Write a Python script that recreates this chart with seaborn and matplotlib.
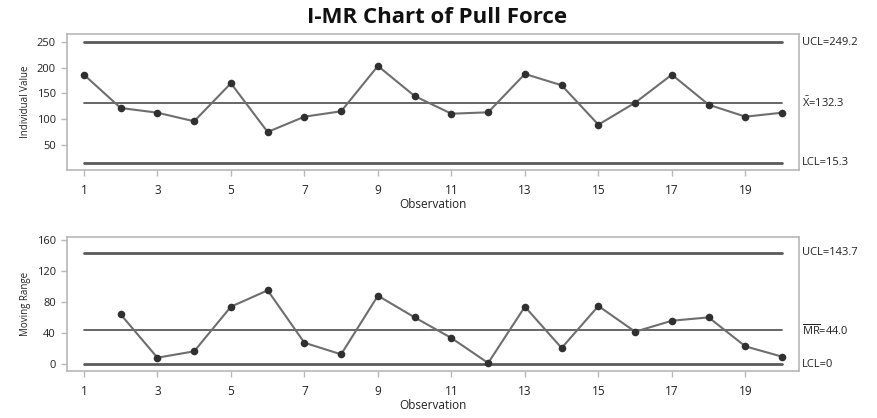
import numpy as np
import pandas as pd
import matplotlib
matplotlib.use("Agg")
import matplotlib.pyplot as plt
import seaborn as sns

# ---- data ----
observation = list(range(1, 21))
individual_value = [186.5, 121.8, 112.7, 96.0, 169.8, 75.2, 104.9, 115.4, 203.4, 145.0,
                    110.7, 113.4, 187.9, 165.9, 89.4, 132.1, 186.5, 128.2, 104.9, 112.7]
mr_observation = list(range(2, 21))
moving_range = [64.5, 8.6, 16.8, 74.4, 95.5, 27.9, 12.9, 88.6, 60.6, 34.0,
                1.7, 74.4, 21.1, 75.3, 42.1, 56.3, 60.6, 23.2, 9.9]
i_limits = {"UCL": 249.2, "CL": 132.3, "LCL": 15.3}
mr_limits = {"UCL": 143.7, "CL": 44.0, "LCL": 0.0}
i_labels = ["UCL=249.2", r"$\bar{\mathrm{X}}$=132.3", "LCL=15.3"]
mr_labels = ["UCL=143.7", r"$\overline{\mathrm{MR}}$=44.0", "LCL=0"]
x_ticks = [1, 3, 5, 7, 9, 11, 13, 15, 17, 19]
i_yticks = [50, 100, 150, 200, 250]
mr_yticks = [0, 40, 80, 120, 160]

sns.set_theme(style="white")
plt.rcParams["font.family"] = ["Open Sans", "DejaVu Sans"]
plt.rcParams["mathtext.fontset"] = "custom"
plt.rcParams["mathtext.rm"] = "Open Sans"

fig = plt.figure(figsize=(8.77, 4.18), dpi=100)
ax1 = fig.add_axes([0.0764, 0.5933, 0.8347, 0.3254])
ax2 = fig.add_axes([0.0764, 0.1124, 0.8347, 0.3200])

df_i = pd.DataFrame({"Observation": observation, "Value": individual_value})
df_mr = pd.DataFrame({"Observation": mr_observation, "Value": moving_range})

line_col = "#6e6e6e"
mark_col = "#303030"
limit_col = "#5a5a5a"
frame_col = "#b8b8b8"

def draw(ax, df, limits, labels, ylim, yticks, ylabel):
    xs = [1, 20]
    ax.plot(xs, [limits["UCL"]] * 2, color=limit_col, lw=2.0, zorder=1)
    ax.plot(xs, [limits["CL"]] * 2, color=limit_col, lw=1.3, zorder=1)
    ax.plot(xs, [limits["LCL"]] * 2, color=limit_col, lw=2.0, zorder=1)
    sns.lineplot(data=df, x="Observation", y="Value", ax=ax, color=line_col,
                 lw=1.5, zorder=2)
    sns.scatterplot(data=df, x="Observation", y="Value", ax=ax, color=mark_col,
                    s=30, edgecolor=mark_col, linewidth=0, zorder=3)
    ax.set_xlim(0.54, 20.46)
    ax.set_ylim(*ylim)
    ax.set_xticks(x_ticks)
    ax.set_yticks(yticks)
    ax.tick_params(axis="both", which="both", direction="out", length=4,
                   width=1.0, color=frame_col, labelsize=8, labelcolor="#222222",
                   pad=4, bottom=True, left=True)
    ax.tick_params(axis="x", pad=6, labelsize=8.5)
    for s in ax.spines.values():
        s.set_color(frame_col)
        s.set_linewidth(1.2)
    ax.set_xlabel("Observation", fontsize=8.5, color="#222222", labelpad=1)
    ax.set_ylabel(ylabel, fontsize=7, color="#222222", labelpad=4)
    vals = [limits["UCL"], limits["CL"], limits["LCL"]]
    for v, lab in zip(vals, labels):
        ax.text(1.004, v, lab, transform=ax.get_yaxis_transform(), ha="left",
                va="center", fontsize=8, color="#222222")

draw(ax1, df_i, i_limits, i_labels, (1.4, 265.5), i_yticks, "Individual Value")
draw(ax2, df_mr, mr_limits, mr_labels, (-8.6, 164), mr_yticks, "Moving Range")

fig.text(0.498, 0.958, "I-MR Chart of Pull Force", ha="center", va="center",
         fontsize=16, fontweight="bold", color="#111111")

fig.savefig("out.png", dpi=100)
